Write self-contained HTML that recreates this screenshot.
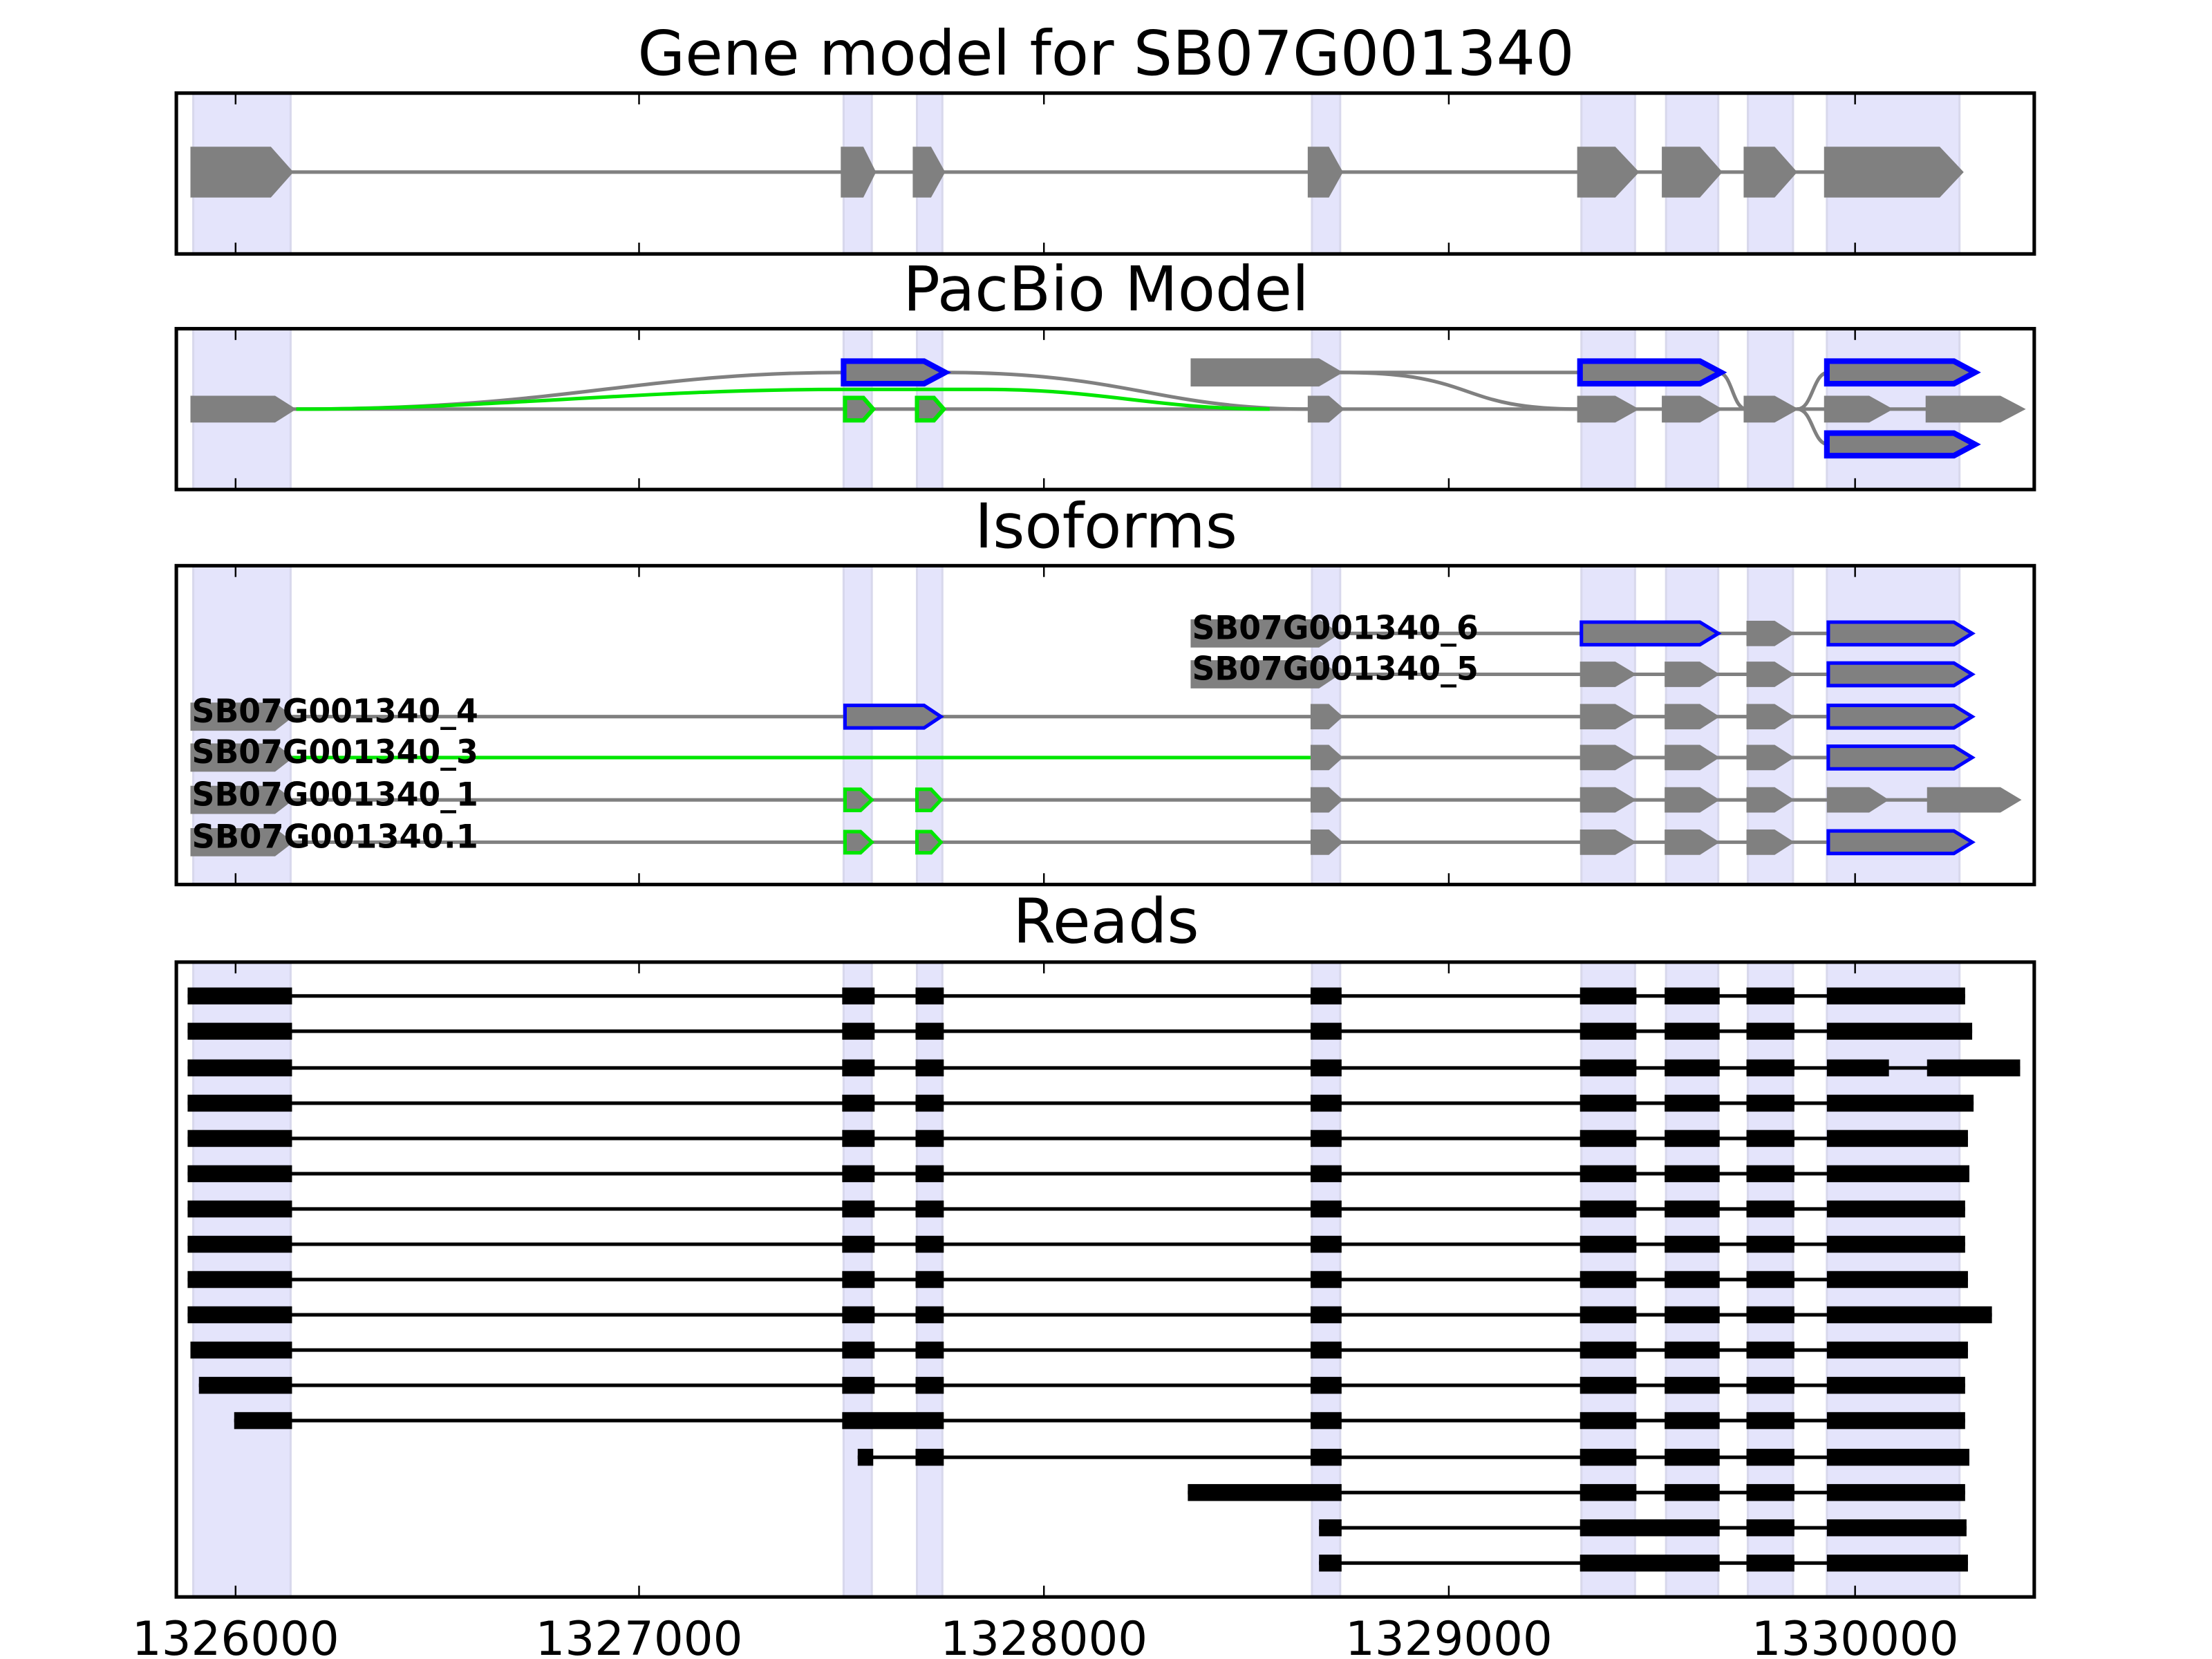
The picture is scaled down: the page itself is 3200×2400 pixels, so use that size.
<!DOCTYPE html>
<html><head><meta charset="utf-8"><style>html,body{margin:0;padding:0;background:#fff}svg{display:block}</style></head>
<body>
<svg id="s" xmlns="http://www.w3.org/2000/svg" width="3200" height="2400" viewBox="0 0 1568 1176" font-family="'DejaVu Sans','Liberation Sans',sans-serif">
<rect width="1568" height="1176" fill="#fff"/>
<g id="g"></g>
<text x="784" y="53" font-size="43.5" text-anchor="middle">Gene model for SB07G001340</text>
<text x="784" y="220" font-size="43.5" text-anchor="middle">PacBio Model</text>
<text x="784" y="388" font-size="43.5" text-anchor="middle">Isoforms</text>
<text x="784" y="668" font-size="43.5" text-anchor="middle">Reads</text>
<g font-size="33" text-anchor="middle">
<text x="167" y="1173">1326000</text><text x="453" y="1173">1327000</text><text x="740" y="1173">1328000</text><text x="1027" y="1173">1329000</text><text x="1315" y="1173">1330000</text>
</g>
</svg>
<script>
var g=document.getElementById('g'),h='';
function R(x,y,w,hh,f){h+='<rect x="'+x+'" y="'+y+'" width="'+w+'" height="'+hh+'" fill="'+f+'"/>';}
function L(x1,y1,x2,y2,c,w){h+='<line x1="'+x1+'" y1="'+y1+'" x2="'+x2+'" y2="'+y2+'" stroke="'+c+'" stroke-width="'+(w||2.5)+'"/>';}
function P(d,c,w){h+='<path d="'+d+'" fill="none" stroke="'+c+'" stroke-width="'+(w||2.5)+'"/>';}
function A(x1,x2,tip,y,hh,fill,stroke,sw){var t=y-hh/2,b=y+hh/2;
 h+='<polygon points="'+x1+','+t+' '+x2+','+t+' '+tip+','+y+' '+x2+','+b+' '+x1+','+b+'" fill="'+fill+'"'+(stroke?' stroke="'+stroke+'" stroke-width="'+sw+'" stroke-linejoin="miter"':'')+'/>';}
var panels=[[66,180],[233,347],[401,627],[682,1132]];
var shades=[[137,206],[598,618],[650,668],[930,950],[1121,1159],[1181,1218],[1239,1271],[1295,1389]];
var ticks=[167,453,740,1027,1315];
panels.forEach(function(p){shades.forEach(function(s){h+='<rect x="'+s[0]+'" y="'+p[0]+'" width="'+(s[1]-s[0])+'" height="'+(p[1]-p[0])+'" fill="#e4e4fb" stroke="#d8d8ec" stroke-width="1.5"/>';});});
var GR='#808080';
// Panel 1
L(200,122,1300,122,GR);
[[135,192,208],[596,612,621],[647,660,670],[927,942,952],[1118,1145,1162],[1178,1205,1221],[1236,1258,1274],[1293,1375,1392]].forEach(function(e){A(e[0],e[1],e[2],122,36,GR);});
// Panel 2
var m=290,t=264,b=315;
L(205,m,1430,m,GR);
P('M210,'+m+' C400,'+m+' 450,'+t+' 600,'+t,GR);
P('M668,'+t+' C800,'+t+' 820,'+m+' 930,'+m,GR);
P('M210,'+m+' C350,'+m+' 450,276 600,276 L700,276 C780,276 820,'+m+' 900,'+m,'#00e600');
L(950,t,1120,t,GR);
P('M950,'+t+' C1050,'+t+' 1030,'+m+' 1120,'+m,GR);
P('M1218,'+t+' C1228,'+t+' 1228,'+m+' 1238,'+m,GR);
P('M1274,'+m+' C1285,'+m+' 1285,'+t+' 1296,'+t,GR);
P('M1274,'+m+' C1285,'+m+' 1285,'+b+' 1296,'+b,GR);
A(135,195,210,m,19,GR);
A(599,612,619,m,16,GR,'#00e600',3);A(650,662,669,m,16,GR,'#00e600',3);
[[927,942,953],[1118,1145,1162],[1178,1205,1221],[1236,1258,1275],[1293,1325,1342],[1365,1418,1436]].forEach(function(e){A(e[0],e[1],e[2],m,19,GR);});
A(598,655,670,t,16,GR,'#0000ff',4);
A(844,935,952,t,20,GR);
A(1120,1205,1220,t,16,GR,'#0000ff',4);
A(1295,1385,1400,t,16,GR,'#0000ff',4);
A(1295,1385,1400,b,16,GR,'#0000ff',4);
// Panel 3
function std(y,last){[[929,942,952],[1120,1145,1160],[1180,1205,1219],[1238,1258,1272]].forEach(function(e){A(e[0],e[1],e[2],y,18,GR);});
 if(last=='b')A(1296,1385,1398,y,16,GR,'#0000ff',2.5);else{A(1295,1325,1339,y,18,GR);A(1366,1418,1433,y,18,GR);}}
L(935,449,1300,449,GR);A(844,935,950,449,20,GR);A(1121,1205,1218,449,16,GR,'#0000ff',2.5);A(1238,1258,1272,449,18,GR);A(1296,1385,1398,449,16,GR,'#0000ff',2.5);
L(935,478,1300,478,GR);A(844,935,950,478,20,GR);[[1120,1145,1160],[1180,1205,1219],[1238,1258,1272]].forEach(function(e){A(e[0],e[1],e[2],478,18,GR);});A(1296,1385,1398,478,16,GR,'#0000ff',2.5);
[508,537,567,597].forEach(function(y,i){
 if(i==1){L(200,y,929,y,'#00e600');L(929,y,1300,y,GR);}else L(200,y,i==2?1370:1300,y,GR);
 A(135,195,208,y,20,GR);
 if(i==0)A(599,655,667,y,16,GR,'#0000ff',2.5);
 if(i>=2){A(599,610,618,y,15,GR,'#00e600',2.5);A(650,660,667,y,15,GR,'#00e600',2.5);}
 std(y,i==2?'g':'b');
});
// Panel 4
var ys=[706,731,757,782,807,832,857,882,907,932,957,982,1007,1033,1058,1083,1108];
var ends=[1393,1398,1432,1399,1395,1396,1393,1393,1395,1412,1395,1393,1393,1396,1393,1394,1395];
var mid=[[597,620],[649,669],[929,951],[1120,1160],[1180,1219],[1238,1272]];
ys.forEach(function(y,i){var K='#000',hh=12,t=y-6;
 if(i<=11){var s=i==10?135:(i==11?141:133);L(s,y,ends[i],y,K,2.5);R(s,t,207-s,hh,K);mid.forEach(function(e){R(e[0],t,e[1]-e[0],hh,K);});
  if(i==2){R(1295,t,44,hh,K);R(1366,t,66,hh,K);}else R(1295,t,ends[i]-1295,hh,K);}
 else if(i==12){L(166,y,1393,y,K);R(166,t,41,hh,K);R(597,t,72,hh,K);mid.slice(2).forEach(function(e){R(e[0],t,e[1]-e[0],hh,K);});R(1295,t,98,hh,K);}
 else if(i==13){L(608,y,1396,y,K);R(608,t,11,hh,K);R(649,t,20,hh,K);mid.slice(2).forEach(function(e){R(e[0],t,e[1]-e[0],hh,K);});R(1295,t,101,hh,K);}
 else if(i==14){L(842,y,1393,y,K);R(842,t,109,hh,K);mid.slice(3).forEach(function(e){R(e[0],t,e[1]-e[0],hh,K);});R(1295,t,98,hh,K);}
 else{L(935,y,ends[i],y,K);R(935,t,16,hh,K);R(1120,t,99,hh,K);R(1238,t,34,hh,K);R(1295,t,ends[i]-1295,hh,K);}
});
function T(x,y,s){h+='<text x="'+x+'" y="'+(y+4)+'" font-size="23" font-weight="bold" textLength="203" lengthAdjust="spacingAndGlyphs">'+s+'</text>';}
T(845,449,'SB07G001340_6');T(845,478,'SB07G001340_5');T(136,508,'SB07G001340_4');T(136,537,'SB07G001340_3');T(136,567,'SB07G001340_1');T(136,597,'SB07G001340.1');
panels.forEach(function(p){h+='<rect x="125" y="'+p[0]+'" width="1317" height="'+(p[1]-p[0])+'" fill="none" stroke="#000" stroke-width="2.5"/>';
 ticks.forEach(function(x){L(x,p[0],x,p[0]+8,'#000',1.2);L(x,p[1]-8,x,p[1],'#000',1.2);});});
g.innerHTML=h;
</script>
</body></html>
